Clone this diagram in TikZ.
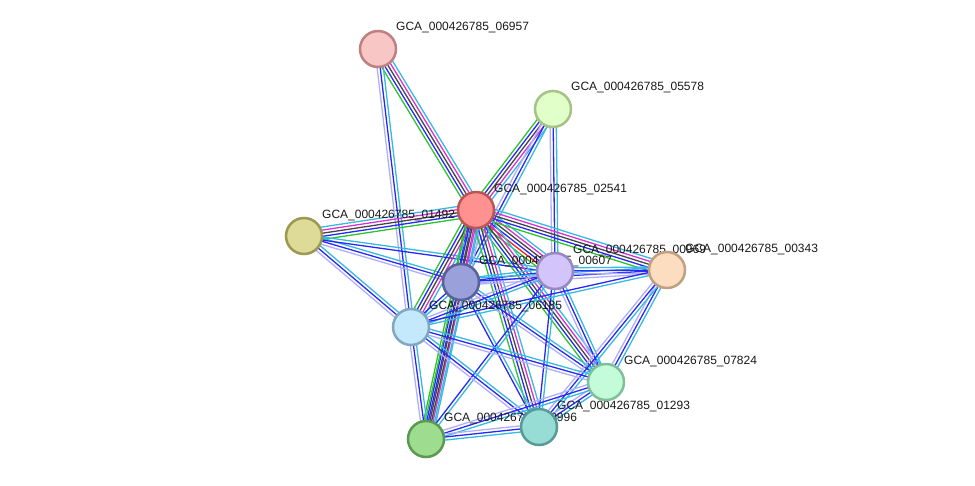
\documentclass[tikz,border=0pt]{standalone}
\usepackage{fontspec}
\setmainfont{Liberation Sans}
\usetikzlibrary{calc}
\pgfdeclarelayer{edges}
\pgfdeclarelayer{labels}
\pgfsetlayers{edges,labels,main}
\definecolor{sgreen}{RGB}{45,195,45}
\definecolor{sred}{RGB}{250,30,30}
\definecolor{sblue}{RGB}{40,40,250}
\definecolor{sblack}{RGB}{70,70,70}
\definecolor{smag}{RGB}{215,50,215}
\definecolor{scyan}{RGB}{55,185,225}
\definecolor{slav}{RGB}{175,175,250}
\tikzset{
  prot/.style={circle, minimum size=36pt, inner sep=0pt, line width=2.5pt},
  plabel/.style={anchor=west, font=\fontsize{12}{14}\selectfont, inner sep=0pt, text=black!90},
  chan/.style={line width=1.3pt},
}
\newcommand\sedge[3]{%
  \foreach \cc [count=\ii] in {#3} {\xdef\nch{\ii}}%
  \foreach \cc [count=\ii] in {#3} {%
    \pgfmathsetmacro\off{(\ii-(\nch+1)/2)*3.1}%
    \draw[chan,\cc] ($(#1.center)!\off pt!90:(#2.center)$) -- ($(#2.center)!\off pt!-90:(#1.center)$);
  }%
}
\begin{document}
\begin{tikzpicture}[x=1pt,y=-1pt]
\useasboundingbox (0,0) rectangle (975,485);
% proteins
\node[prot, fill={rgb,255:red,249;green,198;blue,198}, draw={rgb,255:red,190;green,128;blue,128}] (A) at (378,49) {};
\node[prot, fill={rgb,255:red,225;green,255;blue,200}, draw={rgb,255:red,165;green,195;blue,135}] (B) at (553,109) {};
\node[prot, fill={rgb,255:red,255;green,145;blue,145}, draw={rgb,255:red,190;green,85;blue,85}] (C) at (476,210) {};
\node[prot, fill={rgb,255:red,222;green,218;blue,152}, draw={rgb,255:red,155;green,152;blue,82}] (D) at (304,236) {};
\node[prot, fill={rgb,255:red,153;green,160;blue,218}, draw={rgb,255:red,90;green,96;blue,152}] (E) at (461,282) {};
\node[prot, fill={rgb,255:red,212;green,196;blue,252}, draw={rgb,255:red,152;green,136;blue,192}] (F) at (555,271) {};
\node[prot, fill={rgb,255:red,253;green,221;blue,192}, draw={rgb,255:red,192;green,160;blue,128}] (G) at (667,270) {};
\node[prot, fill={rgb,255:red,196;green,232;blue,252}, draw={rgb,255:red,128;green,168;blue,192}] (H) at (411,327) {};
\node[prot, fill={rgb,255:red,196;green,252;blue,218}, draw={rgb,255:red,128;green,192;blue,152}] (I) at (606,382) {};
\node[prot, fill={rgb,255:red,152;green,220;blue,214}, draw={rgb,255:red,88;green,155;blue,150}] (J) at (539,427) {};
\node[prot, fill={rgb,255:red,158;green,221;blue,144}, draw={rgb,255:red,90;green,154;blue,80}] (K) at (426,439) {};
% labels
\begin{pgfonlayer}{labels}
\node[plabel] (Al) at (396,28) {GCA\_000426785\_06957};
\node[plabel] (Bl) at (571,88) {GCA\_000426785\_05578};
\node[plabel] (Cl) at (494,189) {GCA\_000426785\_02541};
\node[plabel] (Dl) at (322,215) {GCA\_000426785\_01492};
\node[plabel] (El) at (479,261) {GCA\_000426785\_00607};
\node[plabel] (Fl) at (573,250) {GCA\_000426785\_00969};
\node[plabel] (Gl) at (685,249) {GCA\_000426785\_00343};
\node[plabel] (Hl) at (429,306) {GCA\_000426785\_06185};
\node[plabel] (Il) at (624,361) {GCA\_000426785\_07824};
\node[plabel] (Jl) at (557,406) {GCA\_000426785\_01293};
\node[plabel] (Kl) at (444,418) {GCA\_000426785\_00996};
\end{pgfonlayer}
% interactions
\begin{pgfonlayer}{edges}
\sedge{A}{C}{sgreen,sblue,sblack,smag,scyan}
\sedge{A}{H}{slav,sblue,scyan}
\sedge{B}{C}{sgreen,sblue,sblack,smag,scyan}
\sedge{B}{E}{slav,sblue,scyan}
\sedge{B}{F}{slav,sblue,scyan}
\sedge{D}{C}{sgreen,sblue,sblack,smag,scyan}
\sedge{D}{E}{slav,sblue,scyan}
\sedge{D}{F}{sblue,scyan}
\sedge{D}{H}{slav,sblue,scyan}
\sedge{C}{E}{sgreen,sblue,sblack,smag,scyan,slav}
\sedge{C}{F}{sgreen,sred,sblue,sblack,smag,scyan}
\sedge{C}{G}{sgreen,sblue,sblack,smag,scyan}
\sedge{C}{H}{sgreen,sblue,sblack,smag,scyan}
\sedge{C}{I}{sgreen,sblue,sblack,smag,scyan}
\sedge{C}{J}{sgreen,sblue,sblack,smag,scyan}
\sedge{C}{K}{sgreen,sblue,sblack,smag,scyan}
\sedge{E}{F}{slav,sblue,scyan}
\sedge{E}{G}{slav,sblue,scyan}
\sedge{E}{H}{sblue,scyan}
\sedge{E}{I}{slav,sblue,scyan}
\sedge{E}{J}{sblue,scyan}
\sedge{E}{K}{sgreen,sblue,sblack,scyan}
\sedge{F}{G}{slav,sblue,scyan}
\sedge{F}{H}{slav,sblue,scyan}
\sedge{F}{I}{slav,sblue,scyan}
\sedge{F}{J}{sblue,scyan}
\sedge{F}{K}{sblue,scyan}
\sedge{G}{H}{sblue,scyan}
\sedge{G}{I}{slav,sblue,scyan}
\sedge{G}{J}{slav,sblue,scyan}
\sedge{H}{I}{slav,sblue,scyan}
\sedge{H}{J}{slav,sblue,scyan}
\sedge{H}{K}{slav,sblue,scyan}
\sedge{I}{J}{slav,sblue,scyan}
\sedge{I}{K}{slav,sblue,scyan}
\sedge{J}{K}{slav,sblue,scyan}
\end{pgfonlayer}
\end{tikzpicture}
\end{document}
